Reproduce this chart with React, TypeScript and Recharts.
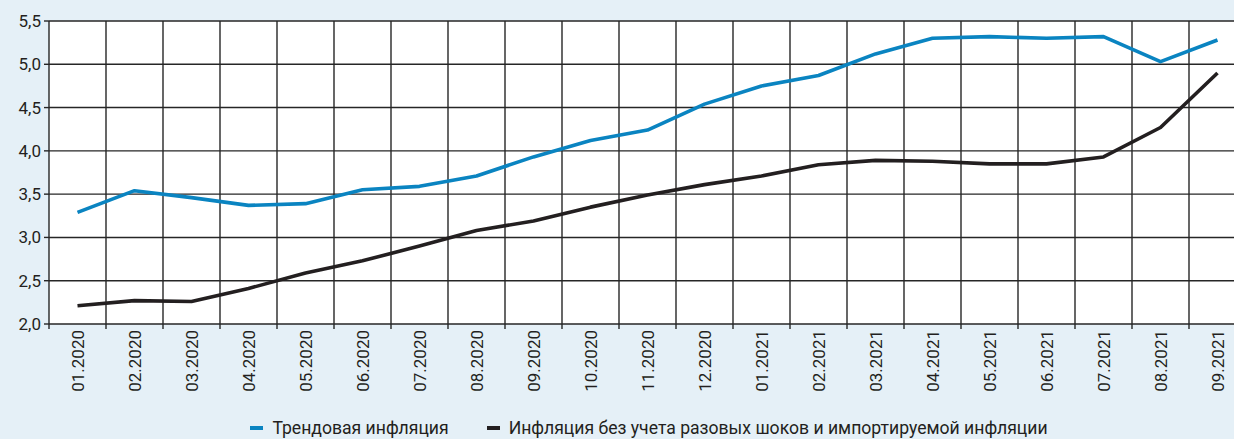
import React from "react";
import {
  LineChart,
  Line,
  XAxis,
  YAxis,
  CartesianGrid,
  Legend,
} from "recharts";

const MONTHS = [
  "01.2020", "02.2020", "03.2020", "04.2020", "05.2020", "06.2020", "07.2020",
  "08.2020", "09.2020", "10.2020", "11.2020", "12.2020", "01.2021", "02.2021",
  "03.2021", "04.2021", "05.2021", "06.2021", "07.2021", "08.2021", "09.2021",
];

// трендовая инфляция, %
const TREND = [
  3.29, 3.54, 3.46, 3.37, 3.39, 3.55, 3.59, 3.71, 3.93, 4.12, 4.24,
  4.54, 4.75, 4.87, 5.12, 5.3, 5.32, 5.3, 5.32, 5.03, 5.28,
];

// без учета разовых шоков и импортируемой инфляции, %
const CORE = [
  2.21, 2.27, 2.26, 2.41, 2.59, 2.73, 2.9, 3.08, 3.19, 3.35, 3.49,
  3.61, 3.71, 3.84, 3.89, 3.88, 3.85, 3.85, 3.93, 4.27, 4.9,
];

const Y_TICKS = [2, 2.5, 3, 3.5, 4, 4.5, 5, 5.5];

const SERIES = [
  { key: "trend", name: "Трендовая инфляция", color: "#0a84c1" },
  {
    key: "core",
    name: "Инфляция без учета разовых шоков и импортируемой инфляции",
    color: "#231f20",
  },
];

const FONT = "Roboto, 'Noto Sans', sans-serif";
const INK = "#231f20";
const GRID = "#262626";
const BG = "#e5f0f7";

// точки ставим в середину месяца, сетка идёт по границам
const data = MONTHS.map((m, i) => ({
  x: i + 0.5,
  month: m,
  trend: TREND[i],
  core: CORE[i],
}));

const centerTicks = MONTHS.map((_, i) => i + 0.5);
const edgeTicks = Array.from({ length: MONTHS.length + 1 }, (_, i) => i);

const fmt = (v: number) => v.toFixed(1).replace(".", ",");

function MonthTick({ x, y, payload }: any) {
  const label = MONTHS[Math.floor(payload.value)];
  return (
    <text
      x={x}
      y={y}
      dy="0.36em"
      textAnchor="end"
      transform={`rotate(-90, ${x}, ${y})`}
      fill={INK}
      fontSize={17}
      fontFamily={FONT}
    >
      {label}
    </text>
  );
}

function EmptyTick() {
  return <g />;
}

function LegendRow() {
  return (
    <div
      style={{
        display: "flex",
        justifyContent: "center",
        gap: 38,
        fontFamily: FONT,
        fontSize: 17.6,
        color: INK,
        paddingLeft: 52,
      }}
    >
      {SERIES.map((s) => (
        <div key={s.key} style={{ display: "flex", alignItems: "center", gap: 9 }}>
          <span
            style={{
              display: "inline-block",
              width: 13,
              height: 4,
              background: s.color,
            }}
          />
          {s.name}
        </div>
      ))}
    </div>
  );
}

export default function App() {
  return (
    <div
      style={{
        position: "fixed",
        top: 0,
        left: 0,
        width: 1234,
        height: 439,
        overflow: "hidden",
        background: BG,
      }}
    >
      <LineChart
        width={1250}
        height={439}
        data={data}
        margin={{ top: 21, right: 4, left: 0, bottom: 1 }}
        style={{ fontFamily: FONT }}
      >
        <CartesianGrid
          xAxisId="edge"
          stroke={GRID}
          strokeWidth={1.4}
          fill="#ffffff"
        />
        <XAxis
          xAxisId="edge"
          dataKey="x"
          type="number"
          domain={[0, MONTHS.length]}
          ticks={edgeTicks}
          interval={0}
          tick={<EmptyTick />}
          tickSize={5}
          tickLine={{ stroke: GRID, strokeWidth: 1.4 }}
          axisLine={false}
          height={5}
        />
        <XAxis
          xAxisId="month"
          dataKey="x"
          type="number"
          domain={[0, MONTHS.length]}
          ticks={centerTicks}
          interval={0}
          tick={<MonthTick />}
          tickSize={0}
          tickMargin={1}
          tickLine={false}
          axisLine={false}
          height={89}
        />
        <YAxis
          domain={[2, 5.5]}
          ticks={Y_TICKS}
          interval={0}
          tickFormatter={fmt}
          tick={{ fill: INK, fontSize: 17, fontFamily: FONT }}
          tickSize={5}
          tickMargin={3}
          tickLine={{ stroke: GRID, strokeWidth: 1.4 }}
          axisLine={false}
          width={49}
        />
        <Legend verticalAlign="bottom" height={20} content={<LegendRow />} />
        {SERIES.map((s) => (
          <Line
            key={s.key}
            xAxisId="month"
            dataKey={s.key}
            name={s.name}
            type="linear"
            stroke={s.color}
            strokeWidth={3.6}
            strokeLinejoin="round"
            dot={false}
            activeDot={false}
            isAnimationActive={false}
          />
        ))}
      </LineChart>
    </div>
  );
}
